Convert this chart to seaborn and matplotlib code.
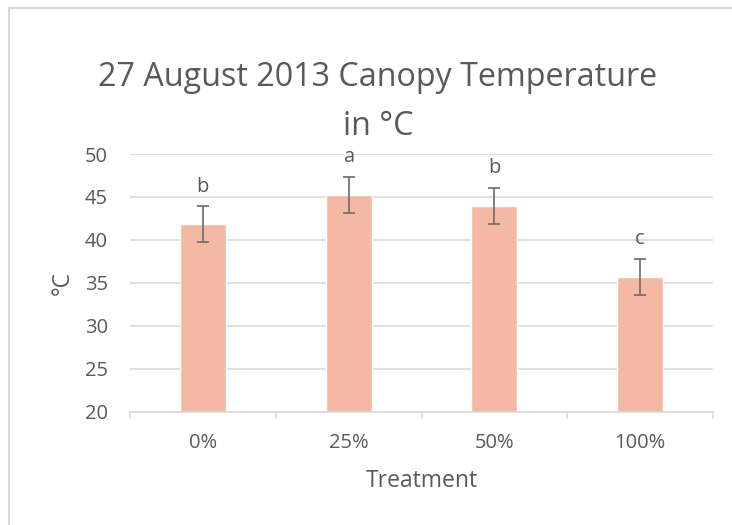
import matplotlib
matplotlib.use("Agg")
import matplotlib.pyplot as plt
import seaborn as sns
import pandas as pd
from matplotlib.patches import Rectangle

treatments = ["0%", "25%", "50%", "100%"]
temps = [41.8, 45.2, 44.0, 35.7]
errors = [2.1, 2.1, 2.1, 2.1]
letters = ["b", "a", "b", "c"]
yticks = [20, 25, 30, 35, 40, 45, 50]

sns.set_theme(style="white")
plt.rcParams['font.family'] = ['Open Sans', 'DejaVu Sans']

TXT = "#595959"
GRID = "#D9D9D9"
BAR = "#F4B9A4"

df = pd.DataFrame({"Treatment": treatments, "Temp": temps})

fig = plt.figure(figsize=(7.32, 5.25), dpi=100)
ax = fig.add_axes([130/732, 1 - 411.7/525, (713 - 130)/732, (411.7 - 154)/525])

sns.barplot(data=df, x="Treatment", y="Temp", color=BAR, width=0.315,
            saturation=1, ax=ax, errorbar=None, zorder=2)
ax.errorbar(range(len(treatments)), temps, yerr=errors, fmt="none",
            ecolor="#6b6b6b", elinewidth=1.2, capsize=4.3, capthick=1.2, zorder=3)
for i, (v, e, l) in enumerate(zip(temps, errors, letters)):
    ax.annotate(l, (i, v + e), xytext=(0, 7), textcoords="offset points",
                ha="center", va="bottom", fontsize=14.5, color=TXT)

ax.set_ylim(20, 50)
ax.set_xlim(-0.5, len(treatments) - 0.5)
ax.set_yticks(yticks)
ax.set_yticklabels([str(t) for t in yticks], fontsize=14.5, color=TXT)
ax.tick_params(axis="y", length=0, pad=16)
ax.tick_params(axis="x", length=0, pad=15, labelsize=14.5, labelcolor=TXT)
ax.yaxis.grid(True, color=GRID, linewidth=1.2, zorder=0)
ax.set_axisbelow(True)
for s in ["top", "right", "left"]:
    ax.spines[s].set_visible(False)
ax.spines["bottom"].set_color(GRID)
ax.spines["bottom"].set_linewidth(1.2)

# category boundary tick marks
for b in [-0.5, 0.5, 1.5, 2.5, 3.5]:
    ax.plot([b, b], [0, -0.025], transform=ax.get_xaxis_transform(),
            color=GRID, lw=1.2, clip_on=False)

ax.set_xlabel("Treatment", fontsize=16.5, color=TXT, labelpad=12)
ax.set_ylabel("°C", fontsize=16.5, color=TXT, labelpad=7)

fig.text(378/732, 1 - 77/525, "27 August 2013 Canopy Temperature", ha="center",
         va="center", fontsize=23.2, color=TXT)
fig.text(378/732, 1 - 127/525, "in °C", ha="center", va="center",
         fontsize=23.2, color=TXT)

fig.patches.append(Rectangle((9/732, -0.1), 1.2, 1 - 8/525 + 0.1,
                             transform=fig.transFigure, fill=False,
                             edgecolor="#D9D9D9", lw=1.5))

fig.savefig("out.png", dpi=100, facecolor="white")
